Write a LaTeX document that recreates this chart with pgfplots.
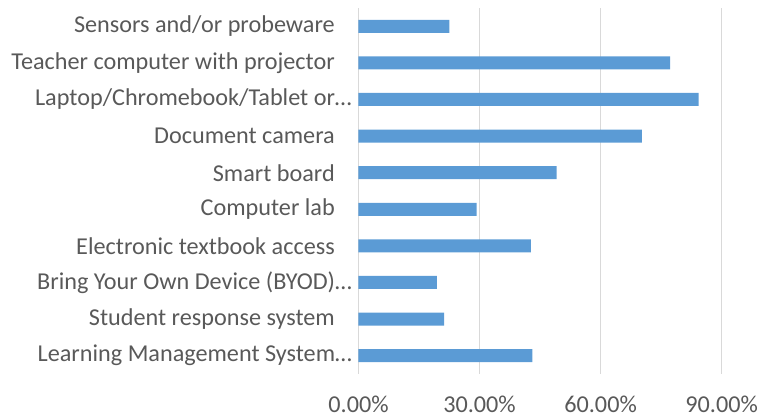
\documentclass[border=0pt]{standalone}
\usepackage{fontspec}
\setmainfont{Carlito}
\usepackage{pgfplots}
\pgfplotsset{compat=1.18}
\definecolor{barblue}{HTML}{5B9BD5}
\definecolor{txtgray}{HTML}{595959}
\definecolor{gridgray}{HTML}{D9D9D9}
\newcommand{\pad}{\rule{17bp}{0pt}}
\begin{document}
\begin{tikzpicture}
\useasboundingbox (-358.5bp,-44bp) rectangle (402.5bp,374bp);
\begin{axis}[
 at={(0,0)}, anchor=south west,
 scale only axis, width=403.5bp, height=366bp,
 xbar, bar width=13bp,
 xmin=0, xmax=100, ymin=-0.5, ymax=9.5,
 axis line style={draw=none},
 xtick={0,30,60,90}, xticklabels={0.00\%,30.00\%,60.00\%,90.00\%},
 ytick={0,1,2,3,4,5,6,7,8,9},
 yticklabels={Learning Management System…,Student response system\pad,Bring Your Own Device (BYOD)…,Electronic textbook access\pad,Computer lab\pad,Smart board\pad,Document camera\pad,Laptop/Chromebook/Tablet or…,Teacher computer with projector\pad,Sensors and/or probeware\pad},
 major tick length=0pt,
 xmajorgrids, major grid style={gridgray, line width=1.2bp},
 tick label style={font=\fontsize{24.3}{28}\selectfont, text=txtgray},
 xticklabel style={anchor=north, inner sep=0pt, yshift=-21.5bp},
 yticklabel style={anchor=east, inner sep=0pt, xshift=-6.5bp},
]
\addplot[fill=barblue, draw=none] coordinates {
 (43.1,0) (21.2,1) (19.4,2) (42.7,3) (29.3,4) (49.1,5) (70.2,6) (84.3,7) (77.2,8) (22.5,9)
};
\end{axis}
\end{tikzpicture}
\end{document}
